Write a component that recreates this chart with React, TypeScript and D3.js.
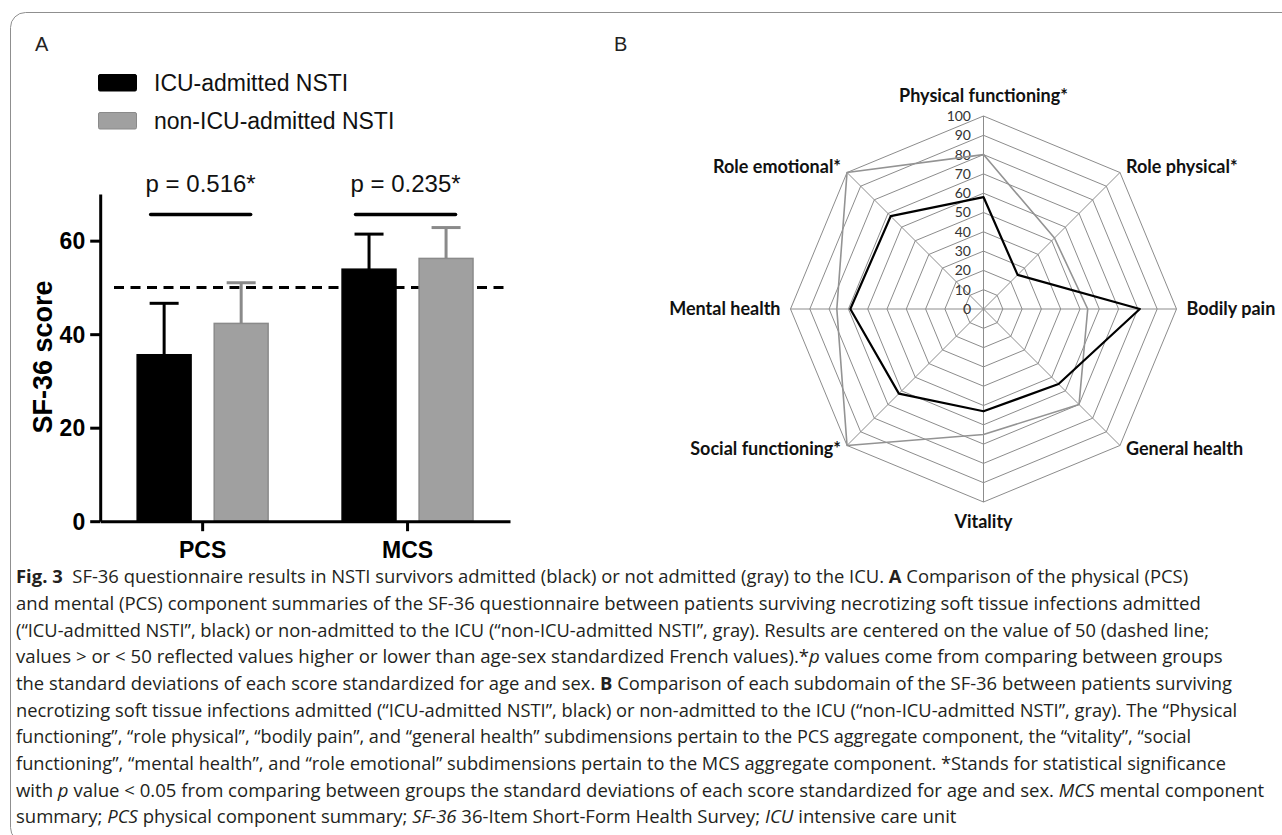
import React, { useEffect, useRef } from 'react';
import * as d3 from 'd3';

// panel A: SF-36 summary scores
const groups = ['PCS', 'MCS'];
const seriesNames = ['ICU-admitted NSTI', 'non-ICU-admitted NSTI'];
const icuMeans = [35.6, 53.9];
const icuSd = [11.0, 7.5];
const nonIcuMeans = [42.3, 56.2];
const nonIcuSd = [8.7, 6.6];
const pLabels = ['p = 0.516*', 'p = 0.235*'];
const pLevel = 65.6;
const referenceScore = 50;
const yTicks = [0, 20, 40, 60];

// panel B: SF-36 subdomains
const domains = [
  'Physical functioning*',
  'Role physical*',
  'Bodily pain',
  'General health',
  'Vitality',
  'Social functioning*',
  'Mental health',
  'Role emotional*',
];
const icuScores = [58, 25, 81, 55, 53, 62, 69, 68];
const nonIcuScores = [80, 52, 54, 70, 65, 100, 76, 100];
const radarTicks = [0, 10, 20, 30, 40, 50, 60, 70, 80, 90, 100];

// caption, one entry per printed line: [text, style]
const captionLines: [string, string][][] = [
  [['Fig. 3', 'b'], ['  SF-36 questionnaire results in NSTI survivors admitted (black) or not admitted (gray) to the ICU. ', 'n'], ['A', 'b'], [' Comparison of the physical (PCS)', 'n']],
  [['and mental (PCS) component summaries of the SF-36 questionnaire between patients surviving necrotizing soft tissue infections admitted', 'n']],
  [['(\u201CICU-admitted NSTI\u201D, black) or non-admitted to the ICU (\u201Cnon-ICU-admitted NSTI\u201D, gray). Results are centered on the value of 50 (dashed line;', 'n']],
  [['values > or < 50 reflected values higher or lower than age-sex standardized French values).*', 'n'], ['p', 'i'], [' values come from comparing between groups', 'n']],
  [['the standard deviations of each score standardized for age and sex. ', 'n'], ['B', 'b'], [' Comparison of each subdomain of the SF-36 between patients surviving', 'n']],
  [['necrotizing soft tissue infections admitted (\u201CICU-admitted NSTI\u201D, black) or non-admitted to the ICU (\u201Cnon-ICU-admitted NSTI\u201D, gray). The \u201CPhysical', 'n']],
  [['functioning\u201D, \u201Crole physical\u201D, \u201Cbodily pain\u201D, and \u201Cgeneral health\u201D subdimensions pertain to the PCS aggregate component, the \u201Cvitality\u201D, \u201Csocial', 'n']],
  [['functioning\u201D, \u201Cmental health\u201D, and \u201Crole emotional\u201D subdimensions pertain to the MCS aggregate component. *Stands for statistical significance', 'n']],
  [['with ', 'n'], ['p', 'i'], [' value < 0.05 from comparing between groups the standard deviations of each score standardized for age and sex. ', 'n'], ['MCS', 'i'], [' mental component', 'n']],
  [['summary; ', 'n'], ['PCS', 'i'], [' physical component summary; ', 'n'], ['SF-36', 'i'], [' 36-Item Short-Form Health Survey; ', 'n'], ['ICU', 'i'], [' intensive care unit', 'n']],
];
const captionLineEnds = [1189, 1201, 1210, 1224, 1232, 1238, 1192, 1227, 1265, 957];

const W = 1282;
const H = 835;
const barFont = '"Liberation Sans", Arial, sans-serif';
const radarFont = 'Lato, "Open Sans", sans-serif';
const grayFill = '#a0a0a0';
const grayEdge = '#8a8a8a';

export default function App() {
  const svgRef = useRef<SVGSVGElement>(null);

  useEffect(() => {
    document.body.style.margin = '0';
    const svg = d3.select(svgRef.current);
    svg.selectAll('*').remove();

    // outer frame
    svg
      .append('rect')
      .attr('x', 10.5)
      .attr('y', 12.5)
      .attr('width', 1320)
      .attr('height', 830)
      .attr('rx', 15)
      .attr('fill', 'none')
      .attr('stroke', '#8f8f8f')
      .attr('stroke-width', 1);

    // panel letters
    svg.append('text').attr('x', 35).attr('y', 51).text('A')
      .style('font', `20px ${barFont}`).attr('fill', '#222');
    svg.append('text').attr('x', 614).attr('y', 51).text('B')
      .style('font', `20px ${barFont}`).attr('fill', '#222');

    // ---------- panel A ----------
    const y = d3.scaleLinear().domain([0, 70]).range([521.2, 193.9]);
    const x0 = d3.scaleBand().domain(groups).range([100.2, 510]).padding(0);
    const x1 = d3
      .scaleBand<number>()
      .domain([0, 1])
      .range([0, x0.bandwidth()])
      .paddingInner(0.3)
      .paddingOuter(0.48);

    const barsData = groups.flatMap((g, gi) => [
      { g, s: 0, mean: icuMeans[gi], sd: icuSd[gi] },
      { g, s: 1, mean: nonIcuMeans[gi], sd: nonIcuSd[gi] },
    ]);

    const gA = svg.append('g');

    // reference line at 50 (behind bars)
    gA.append('line')
      .attr('x1', 114)
      .attr('x2', x0.range()[1])
      .attr('y1', y(referenceScore))
      .attr('y2', y(referenceScore))
      .attr('stroke', '#000')
      .attr('stroke-width', 3)
      .attr('stroke-dasharray', '10 6.5');

    // error bars (drawn upward only)
    barsData.forEach((d) => {
      const cx = x0(d.g)! + x1(d.s)! + x1.bandwidth() / 2;
      const col = d.s === 0 ? '#000' : grayEdge;
      gA.append('line')
        .attr('x1', cx).attr('x2', cx)
        .attr('y1', y(d.mean)).attr('y2', y(d.mean + d.sd))
        .attr('stroke', col).attr('stroke-width', 3);
      gA.append('line')
        .attr('x1', cx - 14.5).attr('x2', cx + 14.5)
        .attr('y1', y(d.mean + d.sd)).attr('y2', y(d.mean + d.sd))
        .attr('stroke', col).attr('stroke-width', 3);
    });

    gA.selectAll('.bar')
      .data(barsData)
      .join('rect')
      .attr('class', 'bar')
      .attr('x', (d) => x0(d.g)! + x1(d.s)!)
      .attr('width', x1.bandwidth())
      .attr('y', (d) => y(d.mean))
      .attr('height', (d) => y(0) - y(d.mean))
      .attr('fill', (d) => (d.s === 0 ? '#000' : grayFill))
      .attr('stroke', (d) => (d.s === 0 ? '#000' : grayEdge))
      .attr('stroke-width', 1.5);

    // significance brackets
    groups.forEach((g, gi) => {
      const c = x0(g)! + x0.bandwidth() / 2 - 2;
      gA.append('line')
        .attr('x1', c - 50).attr('x2', c + 50)
        .attr('y1', y(pLevel)).attr('y2', y(pLevel))
        .attr('stroke', '#000').attr('stroke-width', 3.5)
        .attr('stroke-linecap', 'round');
      gA.append('text')
        .attr('x', c)
        .attr('y', y(pLevel) - 22)
        .attr('text-anchor', 'middle')
        .style('font', `24px ${barFont}`)
        .attr('fill', '#111')
        .text(pLabels[gi]);
    });

    // axes
    const yAxis = gA
      .append('g')
      .attr('transform', `translate(${x0.range()[0]},0)`)
      .call(d3.axisLeft(y).tickValues(yTicks).tickSize(10).tickSizeOuter(0).tickPadding(5));
    const xAxis = gA
      .append('g')
      .attr('transform', `translate(0,${y(0)})`)
      .call(d3.axisBottom(x0).tickSize(10).tickSizeOuter(0).tickPadding(6));
    [yAxis, xAxis].forEach((ax) => {
      ax.select('.domain').attr('stroke', '#000').attr('stroke-width', 3);
      ax.selectAll('.tick line').attr('stroke', '#000').attr('stroke-width', 3);
      ax.selectAll('.tick text')
        .attr('fill', '#000')
        .style('font', `bold 23px ${barFont}`);
    });
    xAxis.selectAll('.tick text').attr('dy', '0.9em');
    yAxis.selectAll('.tick text').attr('dy', '0.36em');

    gA.append('text')
      .attr('transform', `translate(52,357) rotate(-90)`)
      .attr('text-anchor', 'middle')
      .style('font', `bold 27px ${barFont}`)
      .attr('fill', '#000')
      .text('SF-36 score');

    // legend
    seriesNames.forEach((name, i) => {
      gA.append('rect')
        .attr('x', 98.5)
        .attr('y', 74.5 + i * 38)
        .attr('width', 38)
        .attr('height', 16.5)
        .attr('rx', 1.5)
        .attr('fill', i === 0 ? '#000' : grayFill)
        .attr('stroke', i === 0 ? '#000' : grayEdge);
      gA.append('text')
        .attr('x', 154)
        .attr('y', 91 + i * 38)
        .style('font', `23px ${barFont}`)
        .attr('fill', '#111')
        .text(name);
    });

    // ---------- panel B ----------
    const cx = 983.5;
    const cy = 309;
    const r = d3.scaleLinear().domain([0, 100]).range([0, 193]);
    const angle = (i: number) => (i * 2 * Math.PI) / domains.length;
    const gB = svg.append('g').attr('transform', `translate(${cx},${cy})`);

    const ring = d3
      .lineRadial<number>()
      .angle((_, i) => angle(i))
      .radius((d) => r(d))
      .curve(d3.curveLinearClosed);

    radarTicks.slice(1).forEach((t) => {
      gB.append('path')
        .attr('d', ring(domains.map(() => t)))
        .attr('fill', 'none')
        .attr('stroke', '#8c8c8c')
        .attr('stroke-width', 1);
    });
    domains.forEach((_, i) => {
      const a = angle(i);
      gB.append('line')
        .attr('x1', 0).attr('y1', 0)
        .attr('x2', r(100) * Math.sin(a))
        .attr('y2', -r(100) * Math.cos(a))
        .attr('stroke', '#8c8c8c')
        .attr('stroke-width', 1);
    });

    gB.selectAll('.rtick')
      .data(radarTicks)
      .join('text')
      .attr('class', 'rtick')
      .attr('x', -12.5)
      .attr('y', (d) => -r(d))
      .attr('dy', '0.35em')
      .attr('text-anchor', 'end')
      .style('font', `14px ${radarFont}`)
      .attr('fill', '#333')
      .text((d) => d);

    gB.append('path')
      .attr('d', ring(nonIcuScores))
      .attr('fill', 'none')
      .attr('stroke', '#939393')
      .attr('stroke-width', 1.6)
      .attr('stroke-linejoin', 'round');
    gB.append('path')
      .attr('d', ring(icuScores))
      .attr('fill', 'none')
      .attr('stroke', '#000')
      .attr('stroke-width', 2.2)
      .attr('stroke-linejoin', 'round');

    domains.forEach((name, i) => {
      const a = angle(i);
      const s = Math.sin(a);
      const c = Math.cos(a);
      const vx = r(100) * s;
      const vy = -r(100) * c;
      let anchor = 'middle';
      let lx = vx;
      let ly = vy;
      if (Math.abs(s) < 0.01) {
        ly = c > 0 ? vy - 14 : vy + 26;
      } else {
        anchor = s > 0 ? 'start' : 'end';
        const off = Math.abs(c) < 0.01 ? 10 : 6;
        lx = vx + (s > 0 ? off : -off);
        ly = Math.abs(c) < 0.01 ? vy + 6 : c > 0 ? vy + 0 : vy + 10;
      }
      gB.append('text')
        .attr('x', lx)
        .attr('y', ly)
        .attr('text-anchor', anchor)
        .style('font', `bold 18px ${radarFont}`)
        .attr('fill', '#111')
        .text(name);
    });

    // ---------- caption ----------
    // each line is squeezed horizontally to the printed line width
    const capX = 16;
    captionLines.forEach((line, li) => {
      const t = svg
        .append('text')
        .attr('x', 0)
        .attr('y', 0)
        .style('font', `18.5px "Open Sans", "Noto Sans", sans-serif`)
        .attr('fill', '#231f20');
      line.forEach(([txt, st]) => {
        t.append('tspan')
          .attr('font-weight', st === 'b' ? 'bold' : 'normal')
          .attr('font-style', st === 'i' ? 'italic' : 'normal')
          .style('white-space', 'pre')
          .text(txt);
      });
      const natural = (t.node() as SVGTextElement).getComputedTextLength() || 1;
      const k = (captionLineEnds[li] - capX) / natural;
      t.attr('transform', `translate(${capX},${583.3 + li * 26.67}) scale(${k},1)`);
    });
  }, []);

  return (
    <svg
      ref={svgRef}
      width={W}
      height={H}
      viewBox={`0 0 ${W} ${H}`}
      style={{ display: 'block', background: '#fff' }}
    />
  );
}
